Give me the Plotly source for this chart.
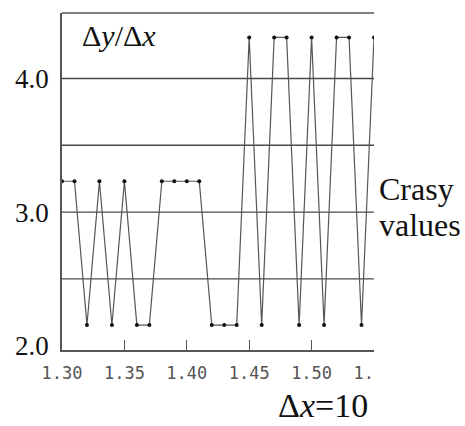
import plotly.graph_objects as go

# ---- data ----
x_vals = [1.30, 1.31, 1.32, 1.33, 1.34, 1.35, 1.36, 1.37, 1.38, 1.39, 1.40, 1.41, 1.42,
          1.43, 1.44, 1.45, 1.46, 1.47, 1.48, 1.49, 1.50, 1.51, 1.52, 1.53, 1.54, 1.55]
LOW, MID, HIGH = 2.154, 3.231, 4.308
y_vals = [MID, MID, LOW, MID, LOW, MID, LOW, LOW, MID, MID, MID, MID, LOW,
          LOW, LOW, HIGH, LOW, HIGH, HIGH, LOW, HIGH, LOW, HIGH, HIGH, LOW, HIGH]
grid_y = [2.5, 3.0, 3.5, 4.0]
y_tickvals = [2.0, 3.0, 4.0]
y_ticktext = ["2.0", "3.0", "4.0"]
x_tickvals = [1.30, 1.35, 1.40, 1.45, 1.50, 1.55]
x_ticktext = ["1.30", "1.35", "1.40", "1.45", "1.50", "1.55"]

W, H = 465, 426
L, R, T, B = 62, 374, 13, 350  # plot area in px


def px(xp):
    return (xp - L) / (R - L)


def py(yp):
    return (B - yp) / (B - T)


fig = go.Figure()
fig.add_trace(go.Scatter(
    x=x_vals, y=y_vals, mode="lines+markers",
    line=dict(color="#555555", width=1.2),
    marker=dict(color="#111111", size=4),
    cliponaxis=True, showlegend=False,
))

for g in grid_y:
    fig.add_hline(y=g, line=dict(color="#4a4a4a", width=1.4), layer="below")

# top frame line
fig.add_shape(type="line", xref="paper", yref="paper", x0=0, x1=1, y0=1, y1=1,
              line=dict(color="#555555", width=1.5))
# white mask clipping the right side below the plot (cropped original)
fig.add_shape(type="rect", xref="paper", yref="paper",
              x0=px(R + 0.5), x1=px(W + 5), y0=py(B + 3), y1=py(392),
              fillcolor="white", line=dict(width=0), layer="above")

serif = "Liberation Serif, Times New Roman, Times, DejaVu Serif, serif"
fig.add_annotation(xref="paper", yref="paper", x=px(80), y=py(17), xanchor="left", yanchor="top",
                   text="Δ<i>y</i>/Δ<i>x</i>", showarrow=False,
                   font=dict(family=serif, size=30, color="#111111"))
fig.add_annotation(xref="paper", yref="paper", x=px(377), y=py(169), xanchor="left", yanchor="top",
                   text="Crasy", showarrow=False,
                   font=dict(family=serif, size=32, color="#111111"))
fig.add_annotation(xref="paper", yref="paper", x=px(377), y=py(205), xanchor="left", yanchor="top",
                   text="values", showarrow=False,
                   font=dict(family=serif, size=32, color="#111111"))
fig.add_annotation(xref="paper", yref="paper", x=px(277), y=py(425.5), xanchor="left", yanchor="bottom",
                   text="Δ<i>x</i>=10", showarrow=False, borderpad=0,
                   font=dict(family=serif, size=34, color="#111111"))

fig.update_layout(
    width=W, height=H,
    margin=dict(l=L, r=W - R, t=T, b=H - B, pad=0),
    paper_bgcolor="white", plot_bgcolor="white",
    xaxis=dict(range=[1.30, 1.55], tickvals=x_tickvals, ticktext=x_ticktext,
               showgrid=False, zeroline=False, showline=True, linecolor="#555555", linewidth=1.5,
               ticks="inside", ticklen=10, tickcolor="#555555", tickwidth=1.3,
               ticklabelstandoff=7,
               tickfont=dict(family="DejaVu Sans Mono", size=17, color="#555555")),
    yaxis=dict(range=[1.967, 4.491], tickvals=y_tickvals, ticktext=y_ticktext,
               showgrid=False, zeroline=False, showline=True, linecolor="#555555", linewidth=1.5,
               ticks="", ticklabelstandoff=6,
               tickfont=dict(family=serif, size=27, color="#111111")),
)

fig.write_html("out.html")
